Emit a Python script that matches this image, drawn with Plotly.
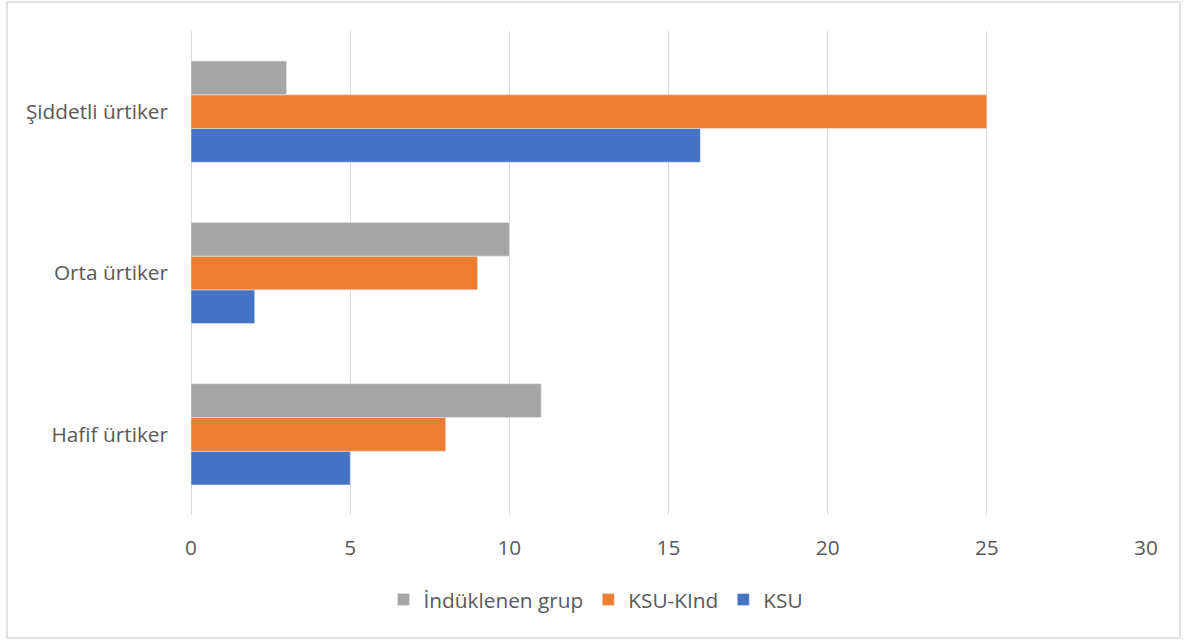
import plotly.graph_objects as go

categories = ["Hafif ürtiker", "Orta ürtiker", "Şiddetli ürtiker"]
ksu = [5, 2, 16]
ksu_kind = [8, 9, 25]
induklenen = [11, 10, 3]
x_ticks = [0, 5, 10, 15, 20, 25, 30]

W, H = 1184, 640
L, R, T, B = 191, 1184 - 1146, 31, 640 - 515
pw, ph = W - L - R, H - T - B

FONT = "Open Sans, sans-serif"
FS = 20.8
TXT = "#595959"
GRID = "#d9d9d9"

fig = go.Figure()
fig.add_trace(go.Bar(y=categories, x=ksu, name="KSU", orientation="h", marker_color="#4472C4"))
fig.add_trace(go.Bar(y=categories, x=ksu_kind, name="KSU-KInd", orientation="h", marker_color="#ED7D31"))
fig.add_trace(go.Bar(y=categories, x=induklenen, name="İndüklenen grup", orientation="h", marker_color="#A5A5A5"))

def px_x(p):
    return (p - L) / pw

def px_y(p):
    return (H - B - p) / ph

fig.update_layout(
    width=W, height=H,
    margin=dict(l=L, r=R, t=T, b=B, autoexpand=False),
    paper_bgcolor="white", plot_bgcolor="white",
    barmode="group", bargap=0.373, bargroupgap=0,
    font=dict(family=FONT, size=FS, color=TXT),
    xaxis=dict(range=[0, 30], tickvals=x_ticks, showgrid=True, gridcolor=GRID, gridwidth=1,
               zeroline=True, zerolinecolor=GRID, zerolinewidth=1, showline=False,
               ticks="", ticklabelstandoff=18, tickfont=dict(size=FS, color=TXT, family=FONT)),
    yaxis=dict(categoryorder="array", categoryarray=categories, showgrid=False, zeroline=False,
               showline=False, ticks="", ticklabelstandoff=22,
               tickfont=dict(size=FS, color=TXT, family=FONT)),
    legend=dict(orientation="h", x=px_x(596), xanchor="center", y=px_y(600), yanchor="middle",
                traceorder="reversed", font=dict(size=FS, color=TXT, family=FONT),
                itemwidth=30, bgcolor="rgba(0,0,0,0)"),
    shapes=[dict(type="rect", xref="paper", yref="paper",
                 x0=px_x(7), x1=px_x(1180), y0=px_y(638), y1=px_y(2),
                 line=dict(color=GRID, width=1.5), fillcolor="rgba(0,0,0,0)", layer="below")],
    showlegend=True,
)

fig.write_html("out.html")
